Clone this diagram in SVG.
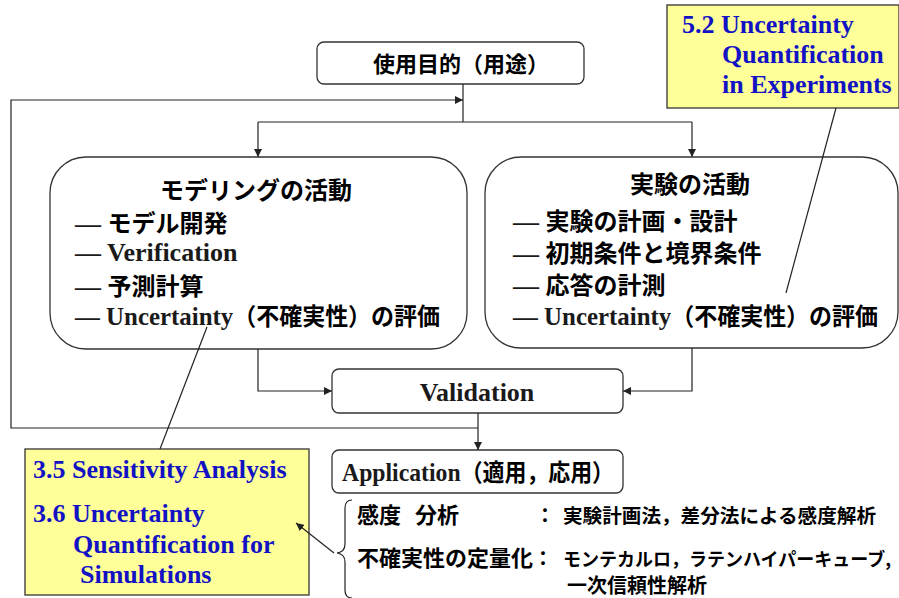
<svg xmlns="http://www.w3.org/2000/svg" width="899" height="598" viewBox="0 0 899 598">
  <style>
    .box { fill: #ffffff; stroke: #333333; stroke-width: 1.3; }
    .note { fill: #ffff99; stroke: #333333; stroke-width: 1.3; }
    .wire { fill: none; stroke: #222222; stroke-width: 1.2; }
    .jp { font-family: "Noto Sans CJK JP", sans-serif; font-weight: bold; fill: #000000; }
    .mix { font-family: "Liberation Serif", "Noto Sans CJK JP", serif; font-weight: bold; font-size: 26px; fill: #1a1a1a; }
    .mix .k { font-family: "Noto Sans CJK JP", sans-serif; font-size: 24px; fill: #000000; }
    .blue { font-family: "Liberation Serif", serif; font-weight: bold; font-size: 26px; fill: #1212c4; }
  </style>
  <defs>
    <marker id="tri" viewBox="0 0 10 10" refX="10" refY="5" markerWidth="8" markerHeight="8" markerUnits="userSpaceOnUse" orient="auto">
      <path d="M0,0 L10,5 L0,10 Z" fill="#222222"/>
    </marker>
  </defs>

  <!-- purpose -->
  <g id="purpose">
    <rect class="box" x="317" y="42" width="267" height="42" rx="7"/>
    <text class="jp" x="373" y="72" font-size="22">使用目的（用途）</text>
  </g>

  <!-- modeling activities -->
  <g id="modeling">
    <rect class="box" x="50" y="157" width="417" height="192" rx="36"/>
    <text class="jp" x="256" y="199" font-size="24" text-anchor="middle">モデリングの活動</text>
    <text class="mix" x="75" y="232">— <tspan class="k">モデル開発</tspan></text>
    <text class="mix" x="75" y="261">— Verification</text>
    <text class="mix" x="75" y="295">— <tspan class="k">予測計算</tspan></text>
    <text class="mix" x="75" y="325" textLength="365" lengthAdjust="spacingAndGlyphs">— Uncertainty<tspan class="k">（不確実性）の評価</tspan></text>
  </g>

  <!-- experiment activities -->
  <g id="experiment">
    <rect class="box" x="485" y="157" width="413" height="191" rx="36"/>
    <text class="jp" x="690" y="193" font-size="24" text-anchor="middle">実験の活動</text>
    <text class="mix" x="513" y="230">— <tspan class="k">実験の計画・設計</tspan></text>
    <text class="mix" x="513" y="262">— <tspan class="k">初期条件と境界条件</tspan></text>
    <text class="mix" x="513" y="294">— <tspan class="k">応答の計測</tspan></text>
    <text class="mix" x="513" y="325" textLength="365" lengthAdjust="spacingAndGlyphs">— Uncertainty<tspan class="k">（不確実性）の評価</tspan></text>
  </g>

  <!-- validation -->
  <g id="validation">
    <rect class="box" x="332" y="369" width="291" height="44" rx="7"/>
    <text class="mix" x="477" y="401" text-anchor="middle">Validation</text>
  </g>

  <!-- application -->
  <g id="application">
    <rect class="box" x="332" y="450" width="291" height="43" rx="7"/>
    <text class="mix" x="342" y="481" textLength="272" lengthAdjust="spacingAndGlyphs">Application<tspan class="k">（適用，応用）</tspan></text>
  </g>

  <!-- methods list -->
  <g id="methods">
    <text class="jp" x="357" y="523" font-size="22">感度</text>
    <text class="jp" x="415" y="523" font-size="22">分析</text>
    <text class="jp" x="535" y="523" font-size="20">：</text>
    <text class="jp" x="563" y="523" font-size="19.5" textLength="313" lengthAdjust="spacingAndGlyphs">実験計画法，差分法による感度解析</text>
    <text class="jp" x="357" y="566" font-size="22">不確実性の定量化</text>
    <text class="jp" x="533" y="566" font-size="20">：</text>
    <text class="jp" x="563" y="566" font-size="18.5" textLength="328" lengthAdjust="spacingAndGlyphs">モンテカルロ，ラテンハイパーキューブ,</text>
    <text class="jp" x="567" y="593" font-size="20">一次信頼性解析</text>
  </g>

  <!-- note: experiments -->
  <g id="note-experiments">
    <rect class="note" x="667" y="5" width="232" height="103"/>
    <text class="blue" x="682" y="33">5.2 Uncertainty</text>
    <text class="blue" x="722" y="63">Quantification</text>
    <text class="blue" x="722" y="93">in Experiments</text>
  </g>

  <!-- note: simulations -->
  <g id="note-simulations">
    <rect class="note" x="25" y="449" width="284" height="146"/>
    <text class="blue" x="33" y="478">3.5 Sensitivity Analysis</text>
    <text class="blue" x="33" y="522">3.6 Uncertainty</text>
    <text class="blue" x="73" y="553">Quantification for</text>
    <text class="blue" x="80" y="583">Simulations</text>
  </g>

  <!-- connectors (drawn last so the callout lines run over the boxes) -->
  <g id="connectors">
    <polyline class="wire" points="463,84 463,122"/>
    <polyline class="wire" points="258,122 692,122"/>
    <polyline class="wire" points="258,122 258,157" marker-end="url(#tri)"/>
    <polyline class="wire" points="692,122 692,157" marker-end="url(#tri)"/>
    <polyline class="wire" points="258,349 258,391 332,391" marker-end="url(#tri)"/>
    <polyline class="wire" points="692,348 692,391 623,391" marker-end="url(#tri)"/>
    <polyline class="wire" points="478,413 478,450" marker-end="url(#tri)"/>
    <polyline class="wire" points="478,428 11,428 11,100 463,100" marker-end="url(#tri)"/>
    <line class="wire" x1="836" y1="108" x2="786" y2="293"/>
    <line class="wire" x1="207" y1="327" x2="160" y2="449"/>
    <line class="wire" x1="334" y1="553" x2="296" y2="523" marker-end="url(#tri)"/>
    <path class="wire" d="M352,500 Q345,500 345,508 L345,544 Q345,552 337,553 Q345,554 345,562 L345,590 Q345,598 352,598"/>
  </g>
</svg>
